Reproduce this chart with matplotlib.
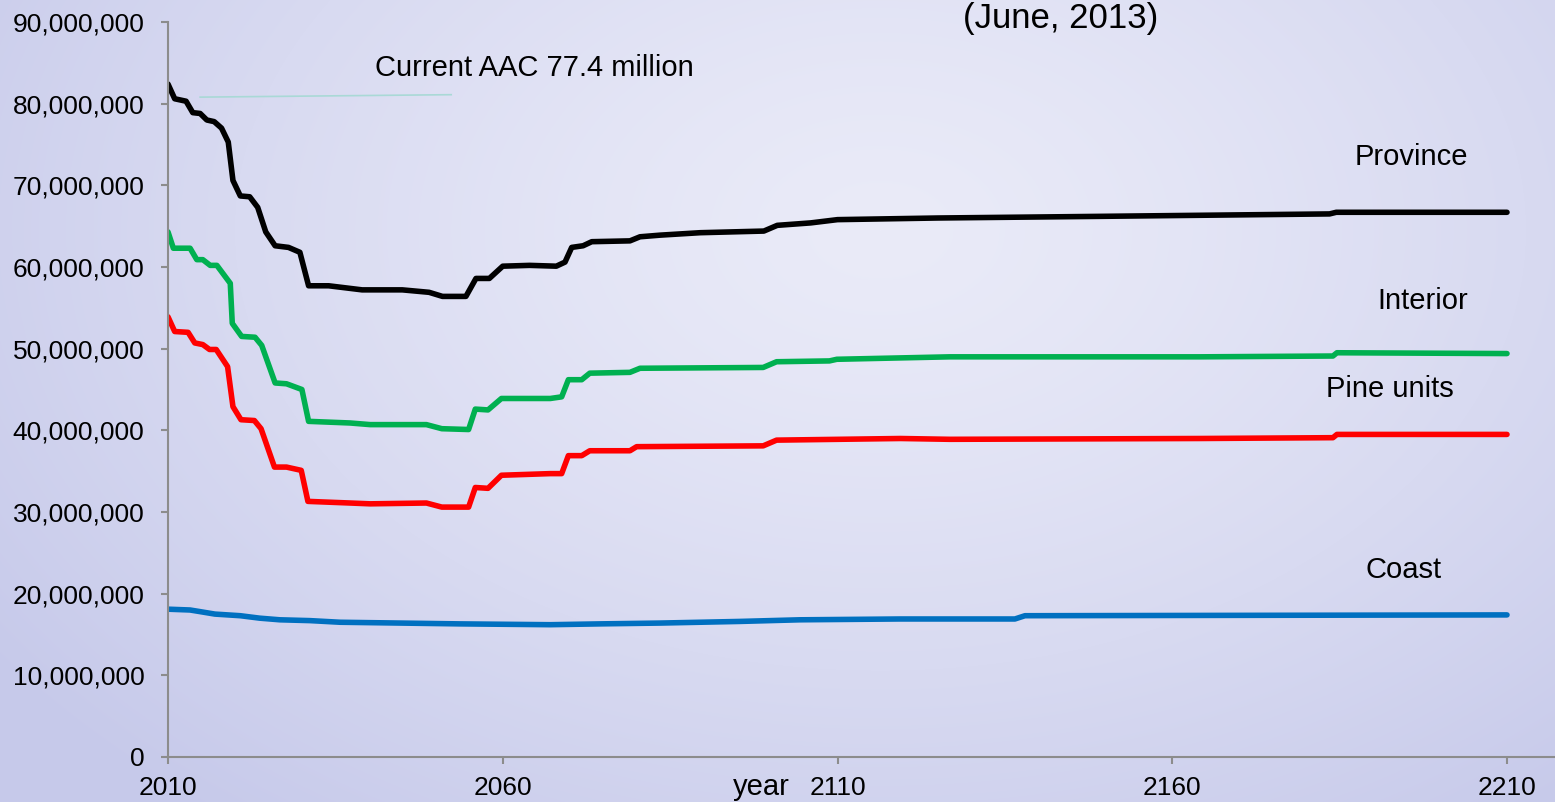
import numpy as np
import matplotlib
matplotlib.use("Agg")
import matplotlib.pyplot as plt
from matplotlib.ticker import FuncFormatter

plt.rcParams['font.family'] = ['Liberation Sans', 'DejaVu Sans']

# Province (black), values in millions of m3
prov_years = [2010, 2011, 2012.7, 2013.7, 2014.8, 2015.8, 2016.9, 2018, 2019, 2019.7,
              2020.8, 2022.2, 2023.4, 2024.6, 2026, 2028, 2029.7, 2031, 2034, 2039,
              2045, 2049, 2051, 2054.5, 2056, 2058, 2060, 2064, 2068, 2069.3,
              2070.3, 2072, 2073.3, 2079, 2080.5, 2083.5, 2089.5, 2099, 2101, 2106,
              2110, 2125, 2137, 2149, 2183.5, 2184.5, 2210]
prov_vals = [82.4, 80.6, 80.3, 78.9, 78.8, 78.0, 77.8, 77.0, 75.3, 70.6,
             68.7, 68.6, 67.3, 64.3, 62.6, 62.4, 61.8, 57.7, 57.7, 57.2,
             57.2, 56.9, 56.4, 56.4, 58.6, 58.6, 60.1, 60.2, 60.1, 60.6,
             62.4, 62.6, 63.1, 63.2, 63.7, 63.9, 64.2, 64.4, 65.1, 65.4,
             65.8, 66.0, 66.1, 66.2, 66.5, 66.7, 66.7]

# Interior (green)
int_years = [2010, 2010.8, 2013.3, 2014.3, 2015.2, 2016.3, 2017.3, 2019.3, 2019.6, 2021.0,
             2023.0, 2024.0, 2026.0, 2027.7, 2030.0, 2031.0, 2037.2, 2040.2, 2048.6, 2050.9,
             2054.9, 2055.9, 2057.8, 2059.8, 2067.1, 2068.8, 2069.8, 2071.8, 2073.0, 2079.0,
             2080.5, 2098.9, 2100.9, 2108.8, 2109.9, 2126.8, 2164.1, 2184.0, 2184.6, 2210]
int_vals = [64.3, 62.3, 62.3, 60.9, 60.9, 60.2, 60.2, 58.0, 53.1, 51.5,
            51.4, 50.4, 45.8, 45.7, 45.0, 41.1, 40.9, 40.7, 40.7, 40.2,
            40.1, 42.6, 42.5, 43.9, 43.9, 44.1, 46.2, 46.2, 47.0, 47.1,
            47.6, 47.7, 48.4, 48.5, 48.7, 49.0, 49.0, 49.1, 49.5, 49.4]

# Pine units (red)
pine_years = [2010, 2011.0, 2013.0, 2014.0, 2015.2, 2016.2, 2017.2, 2018.9, 2019.7, 2020.9,
              2022.9, 2023.9, 2025.9, 2027.7, 2029.9, 2030.9, 2037.2, 2040.2, 2048.6, 2050.9,
              2054.9, 2055.9, 2057.8, 2059.8, 2067.1, 2068.8, 2069.8, 2071.8, 2073.0, 2079.0,
              2080.0, 2098.9, 2100.9, 2119.4, 2126.8, 2164.1, 2184.0, 2184.6, 2210]
pine_vals = [53.9, 52.1, 52.0, 50.7, 50.5, 49.9, 49.9, 47.8, 42.9, 41.3,
             41.2, 40.2, 35.5, 35.5, 35.1, 31.3, 31.1, 31.0, 31.1, 30.6,
             30.6, 33.0, 32.9, 34.5, 34.7, 34.7, 36.9, 36.9, 37.5, 37.5,
             38.0, 38.1, 38.8, 39.0, 38.9, 39.0, 39.1, 39.5, 39.5]

# Coast (blue)
coast_years = [2010, 2013.3, 2014.8, 2017, 2020.8, 2023.7, 2026.7, 2031.2, 2035.7, 2044.7,
               2053.6, 2067.1, 2074.5, 2083.5, 2095.4, 2104.4, 2119.3, 2136.5, 2138, 2210]
coast_vals = [18.1, 18.0, 17.8, 17.5, 17.3, 17.0, 16.8, 16.7, 16.5, 16.4,
              16.3, 16.2, 16.3, 16.4, 16.6, 16.8, 16.9, 16.9, 17.3, 17.4]

# current AAC reference line
aac_years = [2014.8, 2052.3]
aac_vals = [80.8, 81.1]

xticks = [2010, 2060, 2110, 2160, 2210]
yticks = np.arange(0, 90_000_001, 10_000_000)

fig = plt.figure(figsize=(15.55, 8.02), dpi=100)

# lavender radial background
bg = fig.add_axes([0, 0, 1, 1], zorder=-10)
h, w = 802, 1555
yy, xx = np.mgrid[0:h, 0:w]
d = np.sqrt(((xx - 880) / 1100.0) ** 2 + ((yy - 230) / 750.0) ** 2)
d = np.clip(d, 0, 1) ** 1.3
c0 = np.array([234, 235, 248]) / 255.0
c1 = np.array([198, 201, 234]) / 255.0
img = c0[None, None, :] * (1 - d[..., None]) + c1[None, None, :] * d[..., None]
bg.imshow(img, aspect='auto', extent=[0, 1, 0, 1])
bg.axis('off')

ax = fig.add_axes([168 / 1555, 45 / 802, (1555 - 168) / 1555, 735 / 802])
ax.set_facecolor('none')

lw = 4.0
ax.plot(aac_years, np.array(aac_vals) * 1e6, color='#a9d9d6', lw=1.2)
ax.plot(coast_years, np.array(coast_vals) * 1e6, color='#0070c0', lw=lw, solid_capstyle='round')
ax.plot(pine_years, np.array(pine_vals) * 1e6, color='#ff0000', lw=lw, solid_capstyle='round')
ax.plot(int_years, np.array(int_vals) * 1e6, color='#00b050', lw=lw, solid_capstyle='round')
ax.plot(prov_years, np.array(prov_vals) * 1e6, color='#000000', lw=lw, solid_capstyle='round')

ax.set_xlim(2010, 2010 + (1555 - 168) / 6.695)
ax.set_ylim(0, 90_000_000)
ax.set_xticks(xticks)
ax.set_yticks(yticks)
ax.yaxis.set_major_formatter(FuncFormatter(lambda v, p: f"{int(v):,}"))

for s in ['top', 'right']:
    ax.spines[s].set_visible(False)
for s in ['left', 'bottom']:
    ax.spines[s].set_color('#8c8c8c')
    ax.spines[s].set_linewidth(1.5)
ax.tick_params(axis='both', colors='#8c8c8c', labelcolor='black', labelsize=19, width=1.5)
ax.tick_params(axis='y', length=5, pad=12)
ax.tick_params(axis='x', length=5, pad=9)

fs = 21
ax.text(2040.9, 84.4e6, 'Current AAC 77.4 million', fontsize=fs, va='center', ha='left')
ax.text(2128.7, 92.5e6, '(June, 2013)', fontsize=25, va='top', ha='left', clip_on=False)
ax.text(2187.3, 73.5e6, 'Province', fontsize=fs, va='center', ha='left')
ax.text(2190.7, 55.8e6, 'Interior', fontsize=fs, va='center', ha='left')
ax.text(2183.0, 45.1e6, 'Pine units', fontsize=fs, va='center', ha='left')
ax.text(2188.9, 22.9e6, 'Coast', fontsize=fs, va='center', ha='left')
ax.text(2094.4, -30 / 735, 'year', fontsize=fs, va='center', ha='left',
        transform=ax.get_xaxis_transform(), clip_on=False)

fig.savefig('out.png', dpi=100)
